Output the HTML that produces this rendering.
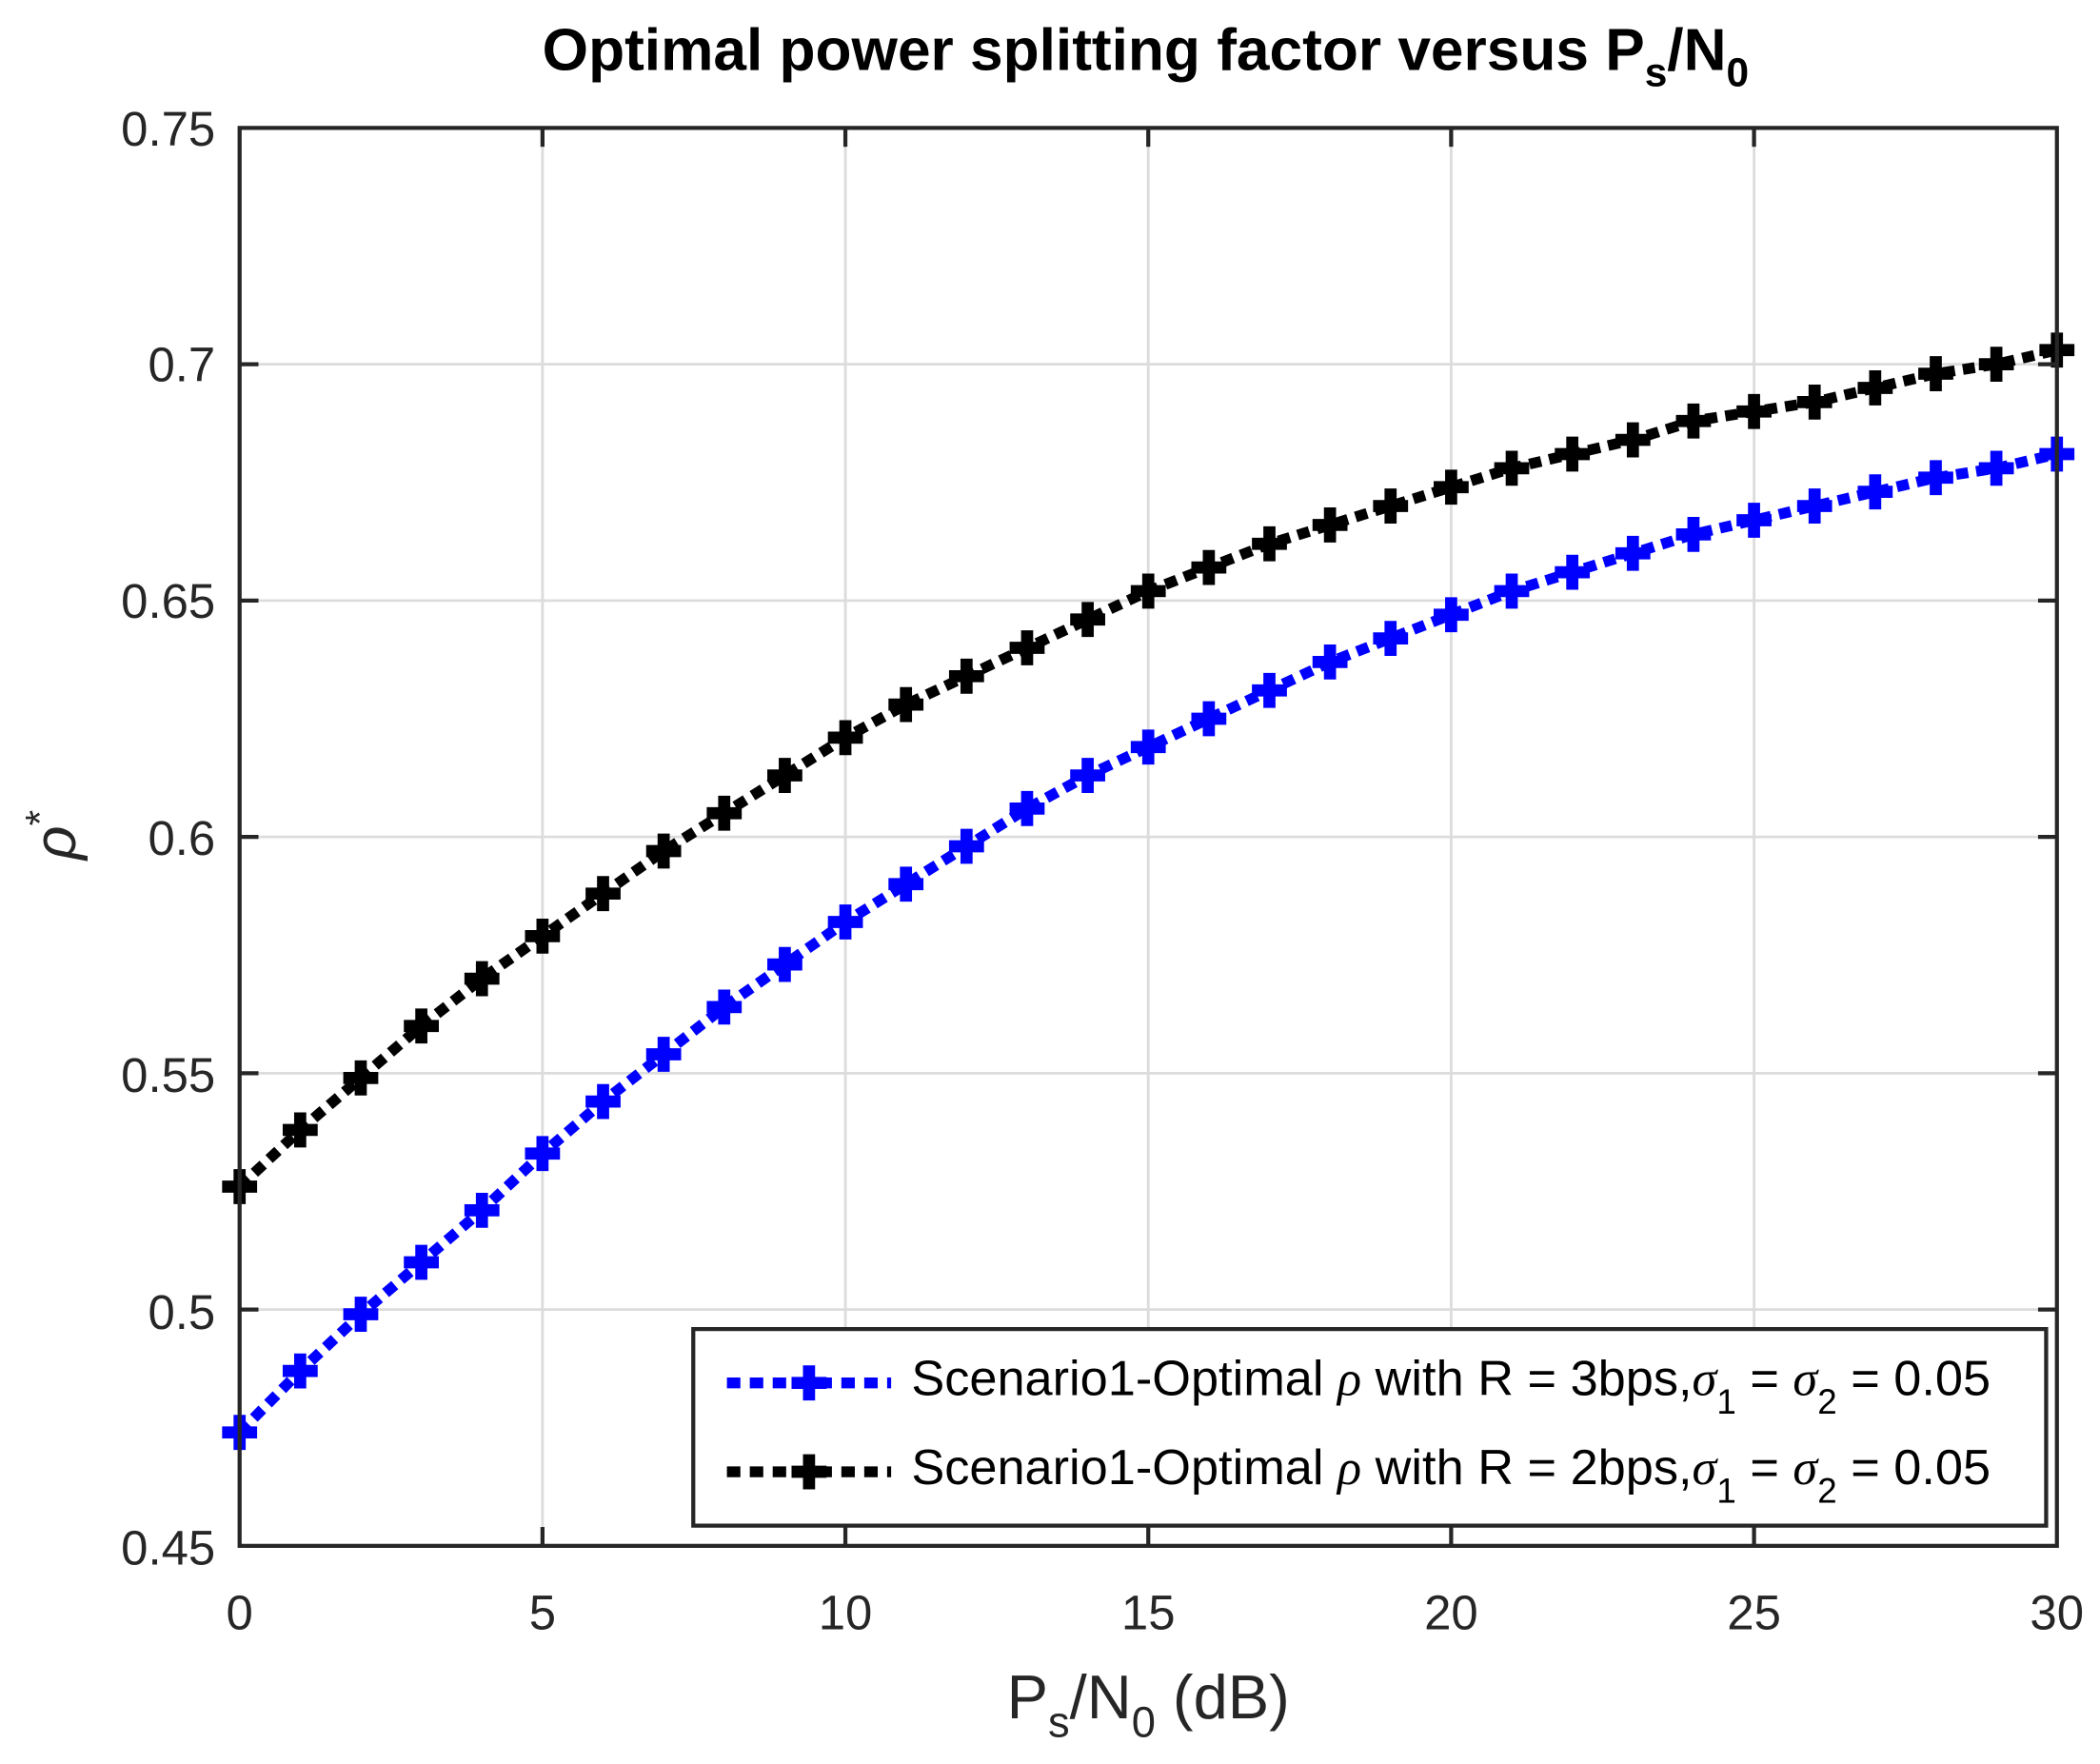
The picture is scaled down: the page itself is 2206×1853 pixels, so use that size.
<!DOCTYPE html>
<html><head><meta charset="utf-8"><style>
html,body{margin:0;padding:0;background:#fff;}
svg{display:block;}
text{font-family:"Liberation Sans",sans-serif;}
</style></head><body>
<svg id="s" width="2206" height="1853" viewBox="0 0 1560 1310" preserveAspectRatio="none" xmlns="http://www.w3.org/2000/svg">
<rect width="1560" height="1310" fill="#fff"/>
<g id="grid" stroke="#dcdcdc" stroke-width="2"></g>
<g id="series"></g>
<rect x="178" y="95" width="1350" height="1053" fill="none" stroke="#262626" stroke-width="3"/>
<g id="ticks" stroke="#262626" stroke-width="3"></g>
<text x="851" y="52" text-anchor="middle" font-size="44" font-weight="bold" fill="#000">Optimal power splitting factor versus P<tspan font-size="30" dy="12">s</tspan><tspan dy="-12">/N</tspan><tspan font-size="30" dy="12">0</tspan></text>
<g font-size="36" fill="#262626" text-anchor="end">
<text x="160" y="108">0.75</text><text x="160" y="283">0.7</text><text x="160" y="459">0.65</text>
<text x="160" y="635">0.6</text><text x="160" y="811">0.55</text><text x="160" y="987">0.5</text><text x="160" y="1162">0.45</text>
</g>
<g font-size="36" fill="#262626" text-anchor="middle">
<text x="178" y="1210">0</text><text x="403" y="1210">5</text><text x="628" y="1210">10</text><text x="853" y="1210">15</text>
<text x="1078" y="1210">20</text><text x="1303" y="1210">25</text><text x="1528" y="1210">30</text>
</g>
<text x="853" y="1276" text-anchor="middle" font-size="46" fill="#262626">P<tspan font-size="32" dy="14">s</tspan><tspan dy="-14">/N</tspan><tspan font-size="32" dy="14">0</tspan><tspan dy="-14"> (dB)</tspan></text>
<text transform="translate(56,620) rotate(-90)" text-anchor="middle" font-size="44" font-family="Liberation Serif,serif" font-style="italic" fill="#262626">ρ<tspan font-size="30" dy="-16" font-style="normal">*</tspan></text>
<rect x="515" y="987" width="1005" height="146" fill="#fff" stroke="#262626" stroke-width="3"/>
<g id="leg"></g>
<g font-size="37" fill="#000">
<text x="677" y="1036">Scenario1-Optimal <tspan font-family="Liberation Serif,serif" font-style="italic">ρ</tspan> with R = 3bps,<tspan font-family="Liberation Serif,serif" font-style="italic">σ</tspan><tspan font-size="26" dy="14">1</tspan><tspan dy="-14"> = </tspan><tspan font-family="Liberation Serif,serif" font-style="italic">σ</tspan><tspan font-size="26" dy="14">2</tspan><tspan dy="-14"> = 0.05</tspan></text>
<text x="677" y="1102">Scenario1-Optimal <tspan font-family="Liberation Serif,serif" font-style="italic">ρ</tspan> with R = 2bps,<tspan font-family="Liberation Serif,serif" font-style="italic">σ</tspan><tspan font-size="26" dy="14">1</tspan><tspan dy="-14"> = </tspan><tspan font-family="Liberation Serif,serif" font-style="italic">σ</tspan><tspan font-size="26" dy="14">2</tspan><tspan dy="-14"> = 0.05</tspan></text>
</g>
</svg>
<script>
var NS="http://www.w3.org/2000/svg";
function el(p,t,a){var e=document.createElementNS(NS,t);for(var k in a)e.setAttribute(k,a[k]);p.appendChild(e);return e;}
var X=function(v){return 178+v*45;},Y=function(v){return 1148-(v-0.45)/0.05*175.5;};
var g=document.getElementById('grid'),tk=document.getElementById('ticks');
for(var i=1;i<6;i++){el(g,'line',{x1:X(i*5),x2:X(i*5),y1:95,y2:1148});
el(tk,'line',{x1:X(i*5),x2:X(i*5),y1:1148,y2:1134});el(tk,'line',{x1:X(i*5),x2:X(i*5),y1:95,y2:109});}
for(var j=1;j<6;j++){var y=Y(0.45+j*0.05);el(g,'line',{x1:178,x2:1528,y1:y,y2:y});
el(tk,'line',{x1:178,x2:192,y1:y,y2:y});el(tk,'line',{x1:1528,x2:1514,y1:y,y2:y});}
var blue=[0.474,0.487,0.499,0.510,0.521,0.533,0.544,0.554,0.564,0.573,0.582,0.590,0.598,0.606,0.613,0.619,0.625,0.631,0.637,0.642,0.647,0.652,0.656,0.660,0.664,0.667,0.670,0.673,0.676,0.678,0.681];
var black=[0.526,0.538,0.549,0.560,0.570,0.579,0.588,0.597,0.605,0.613,0.621,0.628,0.634,0.640,0.646,0.652,0.657,0.662,0.666,0.670,0.674,0.678,0.681,0.684,0.688,0.690,0.692,0.695,0.698,0.700,0.703];
var s=document.getElementById('series');
function plus(p,x,y,c){el(p,'path',{d:'M'+(x-13)+' '+y+'h26M'+x+' '+(y-13)+'v26',stroke:c,'stroke-width':9,fill:'none'});}
function ser(d,c){var pts=d.map(function(v,i){return X(i)+','+Y(v);}).join(' ');
el(s,'polyline',{points:pts,fill:'none',stroke:c,'stroke-width':8,'stroke-dasharray':'9 6'});
d.forEach(function(v,i){plus(s,X(i),Y(v),c);});}
ser(blue,'#0000ff');ser(black,'#000');
var L=document.getElementById('leg');
el(L,'line',{x1:540,x2:662,y1:1027,y2:1027,stroke:'#0000ff','stroke-width':8,'stroke-dasharray':'10 7'});plus(L,601,1027,'#0000ff');
el(L,'line',{x1:540,x2:662,y1:1093,y2:1093,stroke:'#000','stroke-width':8,'stroke-dasharray':'10 7'});plus(L,601,1093,'#000');
</script>
</body></html>
